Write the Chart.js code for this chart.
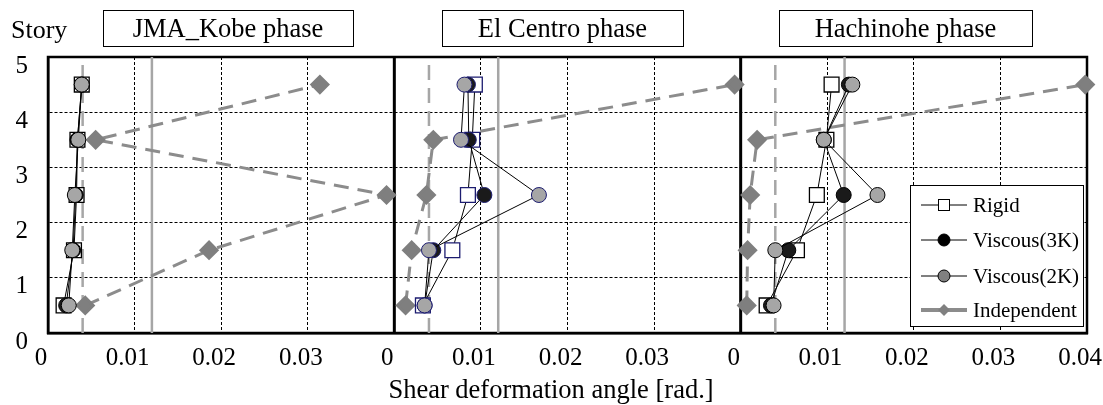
<!DOCTYPE html>
<html>
<head>
<meta charset="utf-8">
<script src="https://cdn.jsdelivr.net/npm/chart.js@4.4.1/dist/chart.umd.min.js"></script>
<style>
  html, body { margin: 0; padding: 0; background: #fff; }
  #wrap { width: 1103px; height: 405px; }
</style>
</head>
<body>
<div id="wrap"><canvas id="storyChart"></canvas></div>
<script>
// story mid-heights (bottom to top)
const stories = [0.5, 1.5, 2.5, 3.5, 4.5];
const phases = ['JMA_Kobe phase', 'El Centro phase', 'Hachinohe phase'];
const seriesNames = ['Rigid', 'Viscous(3K)', 'Viscous(2K)', 'Independent'];

// shear deformation angle [rad.] per story, one array per phase
const rigidKobe = [0.0018, 0.0030, 0.0033, 0.0034, 0.0039];
const visc3Kobe = [0.0021, 0.0029, 0.0032, 0.0034, 0.0039];
const visc2Kobe = [0.0024, 0.0028, 0.0031, 0.0035, 0.0039];
const indepKobe = [0.0043, 0.0186, 0.0391, 0.0055, 0.0314];

const rigidCentro = [0.0033, 0.0067, 0.0085, 0.0090, 0.0093];
const visc3Centro = [0.0035, 0.0045, 0.0104, 0.0086, 0.0085];
const visc2Centro = [0.0035, 0.0040, 0.0167, 0.0077, 0.0081];
const indepCentro = [0.0013, 0.0020, 0.0037, 0.0045, 0.0393];

const rigidHachi = [0.0030, 0.0065, 0.0088, 0.0099, 0.0105];
const visc3Hachi = [0.0035, 0.0055, 0.0119, 0.0096, 0.0125];
const visc2Hachi = [0.0038, 0.0040, 0.0158, 0.0096, 0.0129];
const indepHachi = [0.0007, 0.0008, 0.0011, 0.0019, 0.0398];

// reference limits drawn in every panel
const limitDashed = 0.004;
const limitSolid = 0.012;

const panelWidth = 0.04;
const xTicks = ['0', '0.01', '0.02', '0.03', '0', '0.01', '0.02', '0.03', '0', '0.01', '0.02', '0.03', '0.04'];

const panels = [
  [rigidKobe, visc3Kobe, visc2Kobe, indepKobe],
  [rigidCentro, visc3Centro, visc2Centro, indepCentro],
  [rigidHachi, visc3Hachi, visc2Hachi, indepHachi]
];

const FONT = "'Liberation Serif', 'Times New Roman', serif";

function pts(vals, off) {
  return vals.map((v, i) => ({x: off + v, y: stories[i]}));
}
function vline(x) {
  return [{x: x, y: 0}, {x: x, y: 5}];
}

const datasets = [];
panels.forEach((p, k) => {
  const off = k * panelWidth;
  const edge = k == 1 ? '#1c1c70' : '#000';
  datasets.push({
    label: 'limitDashed', data: vline(off + limitDashed), showLine: true, pointRadius: 0,
    borderColor: '#a6a6a6', borderWidth: 2.5, borderDash: [15, 8], order: 9
  });
  datasets.push({
    label: 'limitSolid', data: vline(off + limitSolid), showLine: true, pointRadius: 0,
    borderColor: '#a6a6a6', borderWidth: 2.5, order: 9
  });
  datasets.push({
    label: seriesNames[3], data: pts(p[3], off), showLine: true, clip: false,
    borderColor: '#8c8c8c', borderWidth: 3, borderDash: [15, 9],
    pointStyle: 'rectRot', pointRadius: 8, pointBackgroundColor: '#7f7f7f', pointBorderColor: '#7f7f7f',
    order: 5
  });
  datasets.push({
    label: seriesNames[0], data: pts(p[0], off), showLine: true,
    borderColor: '#000', borderWidth: 1,
    pointStyle: 'rect', pointRadius: 10.5, pointBackgroundColor: '#fff', pointBorderColor: edge, pointBorderWidth: 1.3,
    order: 4
  });
  datasets.push({
    label: seriesNames[1], data: pts(p[1], off), showLine: true,
    borderColor: '#000', borderWidth: 1,
    pointStyle: 'circle', pointRadius: 7.5, pointBackgroundColor: '#1a1a1a', pointBorderColor: edge, pointBorderWidth: 1,
    order: 3
  });
  datasets.push({
    label: seriesNames[2], data: pts(p[2], off), showLine: true,
    borderColor: '#000', borderWidth: 1,
    pointStyle: 'circle', pointRadius: 7.5, pointBackgroundColor: '#a6a6a6', pointBorderColor: edge, pointBorderWidth: 1,
    order: 2
  });
});
// thick separators between the phases
[1, 2].forEach(k => {
  datasets.push({
    label: 'sep', data: vline(k * panelWidth), showLine: true, pointRadius: 0,
    borderColor: '#000', borderWidth: 3, order: 8
  });
});

const decorPlugin = {
  id: 'decor',
  beforeDatasetsDraw(chart) {
    const {ctx, chartArea: a} = chart;
    ctx.save();
    ctx.strokeStyle = '#000';
    ctx.lineWidth = 2.5;
    ctx.strokeRect(a.left, a.top, a.right - a.left, a.bottom - a.top);
    ctx.restore();
  },
  afterDraw(chart) {
    const ctx = chart.ctx;
    ctx.save();
    ctx.fillStyle = '#000';
    ctx.textBaseline = 'middle';

    // Story label
    ctx.font = '26px ' + FONT;
    ctx.textAlign = 'left';
    ctx.fillText('Story', 11, 31);

    // phase title boxes
    const boxes = [[103, 353], [442, 683], [779, 1032]];
    ctx.font = '26.5px ' + FONT;
    ctx.textAlign = 'center';
    ctx.lineWidth = 1;
    ctx.strokeStyle = '#000';
    boxes.forEach((b, i) => {
      ctx.fillStyle = '#fff';
      ctx.fillRect(b[0], 10, b[1] - b[0], 36);
      ctx.strokeRect(b[0] + 0.5, 10.5, b[1] - b[0], 36);
      ctx.fillStyle = '#000';
      ctx.fillText(phases[i], (b[0] + b[1]) / 2, 30);
    });

    // x axis title
    ctx.font = '26.5px ' + FONT;
    ctx.fillText('Shear deformation angle [rad.]', 551, 391);

    // legend
    const lx = 910, ly = 185, lw = 173, lh = 141;
    ctx.fillStyle = '#fff';
    ctx.fillRect(lx, ly, lw, lh);
    ctx.strokeStyle = '#000';
    ctx.lineWidth = 1;
    ctx.strokeRect(lx + 0.5, ly + 0.5, lw, lh);
    const rows = [205, 240, 276, 310];
    ctx.font = '21px ' + FONT;
    ctx.textAlign = 'left';
    rows.forEach((ry, i) => {
      ctx.beginPath();
      ctx.moveTo(921, ry);
      ctx.lineTo(967, ry);
      ctx.strokeStyle = i == 3 ? '#8c8c8c' : '#000';
      ctx.lineWidth = i == 3 ? 4 : 1;
      ctx.stroke();
      ctx.lineWidth = 1;
      ctx.strokeStyle = '#000';
      if (i == 0) {
        ctx.fillStyle = '#fff';
        ctx.fillRect(938, ry - 6, 12, 12);
        ctx.strokeRect(938.5, ry - 5.5, 11, 11);
      } else if (i == 1 || i == 2) {
        ctx.beginPath();
        ctx.arc(944, ry, 6, 0, Math.PI * 2);
        ctx.fillStyle = i == 1 ? '#000' : '#808080';
        ctx.fill();
        ctx.stroke();
      } else {
        ctx.beginPath();
        ctx.moveTo(944, ry - 6);
        ctx.lineTo(950, ry);
        ctx.lineTo(944, ry + 6);
        ctx.lineTo(938, ry);
        ctx.closePath();
        ctx.fillStyle = '#808080';
        ctx.fill();
      }
      ctx.fillStyle = '#000';
      ctx.fillText(seriesNames[i], 973, ry + 1);
    });
    ctx.restore();
  }
};

const storyChartCanva = document.getElementById('storyChart');
const storyChart = new Chart(storyChartCanva, {
  type: 'scatter',
  data: {datasets: datasets},
  options: {
    responsive: true,
    maintainAspectRatio: false,
    animation: false,
    layout: {padding: {top: 57, right: 16, left: 0, bottom: 0}},
    plugins: {
      legend: {display: false},
      tooltip: {enabled: false}
    },
    elements: {line: {tension: 0}},
    scales: {
      x: {
        type: 'linear', min: 0, max: 0.12,
        afterFit(scale) { scale.height = 72; scale.paddingLeft = 0; scale.paddingRight = 0; },
        afterBuildTicks(scale) {
          scale.ticks = xTicks.map((t, i) => ({value: i / 100}));
        },
        ticks: {
          callback: (v, i) => xTicks[i],
          color: '#000', font: {family: FONT, size: 25},
          padding: 10, labelOffset: -7, maxRotation: 0, autoSkip: false
        },
        grid: {color: '#000', lineWidth: 1, drawTicks: false},
        border: {display: true, color: '#000', width: 2.5, dash: [3, 2]}
      },
      y: {
        min: 0, max: 5,
        afterFit(scale) { scale.width = 48; },
        ticks: {
          stepSize: 1, color: '#000', font: {family: FONT, size: 25},
          padding: 20, labelOffset: 9
        },
        grid: {color: '#000', lineWidth: 1, drawTicks: false},
        border: {display: true, color: '#000', width: 2.5, dash: [3, 2]}
      }
    }
  },
  plugins: [decorPlugin]
});
</script>
</body>
</html>
